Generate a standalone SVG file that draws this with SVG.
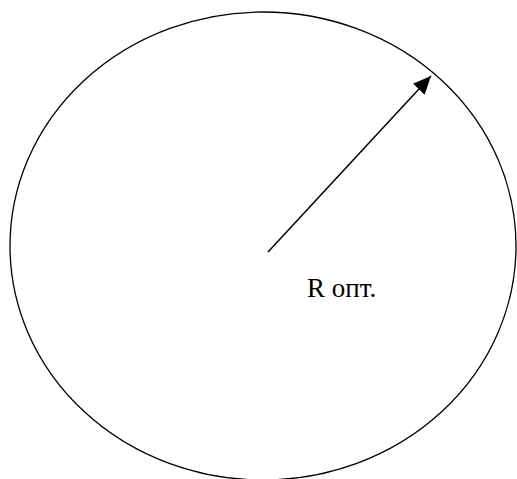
<svg xmlns="http://www.w3.org/2000/svg" width="517" height="479" viewBox="0 0 517 479">
<style>
.outline{fill:none;stroke:#000;stroke-width:1.3}
.conn{fill:none;stroke:#000;stroke-width:1.5}
.lbl{font-family:"Liberation Serif","Times New Roman",serif;font-size:27px;fill:#000}
</style>
<defs>
<marker id="ah" markerUnits="userSpaceOnUse" markerWidth="20" markerHeight="20" refX="18" refY="8" orient="auto" viewBox="0 0 20 16">
<path d="M0,0 L18,8 L0,16 Z" fill="#000"/>
</marker>
</defs>
<rect width="517" height="479" fill="#fff"/>
<g id="circle">
<ellipse class="outline" cx="263" cy="246" rx="253" ry="234"/>
</g>
<g id="connectors">
<line class="conn" x1="268" y1="252" x2="431" y2="76" marker-end="url(#ah)"/>
</g>
<g id="label">
<text class="lbl" x="307" y="297">R опт.</text>
</g>
</svg>
